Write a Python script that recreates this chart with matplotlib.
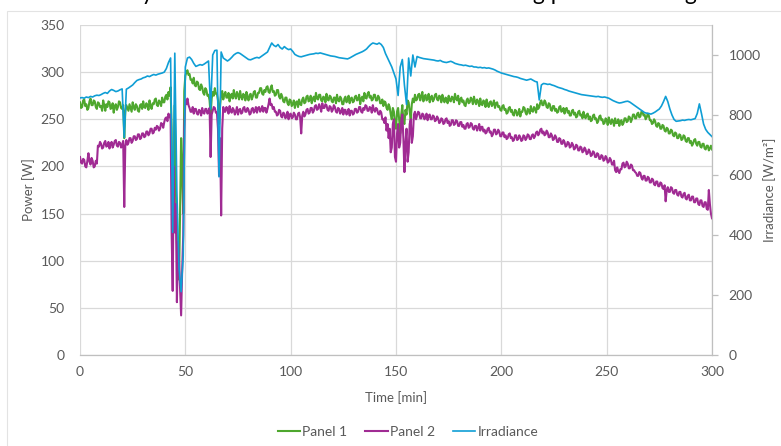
import numpy as np
import matplotlib
matplotlib.use("Agg")
import matplotlib.pyplot as plt
from matplotlib.patches import Rectangle

plt.rcParams['font.family'] = ['Lato', 'DejaVu Sans']

# Panel readings every 30 s, irradiance every minute
panel_time = np.arange(0, 601) / 2
irr_time = np.arange(0, 301)

# Output power of panel 1 [W]
panel1 = [
    268, 262, 263, 270, 271, 264, 266, 260, 262, 269, 272, 265, 265, 270, 269, 263, 261, 268, 267, 263,
    264, 259, 270, 265, 259, 266, 263, 269, 268, 261, 262, 267, 257, 264, 266, 260, 263, 269, 268, 262,
    261, 265, 230, 258, 265, 262, 259, 266, 262, 258, 268, 263, 260, 266, 264, 259, 258, 265, 266, 261,
    269, 263, 262, 267, 265, 260, 270, 264, 261, 267, 266, 271, 272, 265, 264, 270, 268, 264, 273, 268,
    268, 274, 276, 271, 279, 275, 284, 240, 100, 200, 265, 180, 120, 90, 80, 150, 230, 195, 150, 280,
    296, 300, 302, 297, 298, 292, 292, 288, 294, 286, 285, 290, 289, 282, 281, 287, 284, 278, 276, 283,
    281, 275, 276, 270, 255, 272, 279, 275, 283, 277, 277, 270, 245, 265, 276, 280, 271, 276, 279, 273,
    273, 278, 269, 275, 277, 272, 281, 275, 272, 279, 276, 271, 280, 274, 271, 277, 275, 270, 279, 273,
    270, 276, 277, 271, 274, 279, 280, 273, 273, 278, 278, 283, 283, 277, 276, 281, 279, 284, 285, 279,
    278, 283, 286, 279, 280, 275, 276, 281, 281, 274, 272, 277, 274, 269, 268, 273, 273, 267, 265, 271,
    270, 264, 266, 270, 262, 268, 269, 263, 271, 266, 265, 271, 273, 267, 268, 274, 275, 269, 270, 275,
    267, 272, 274, 269, 278, 272, 271, 276, 276, 270, 269, 274, 273, 268, 277, 271, 270, 275, 274, 269,
    268, 273, 273, 267, 276, 270, 269, 274, 272, 266, 266, 272, 274, 268, 270, 275, 267, 272, 273, 268,
    269, 274, 275, 270, 271, 276, 266, 272, 274, 269, 278, 273, 272, 277, 279, 273, 275, 270, 271, 276,
    276, 270, 270, 275, 273, 267, 267, 271, 264, 269, 268, 262, 260, 266, 263, 255, 250, 262, 258, 245,
    240, 258, 262, 250, 235, 255, 265, 248, 245, 260, 255, 270, 268, 258, 250, 266, 272, 268, 276, 270,
    271, 276, 277, 270, 274, 279, 269, 274, 276, 270, 272, 277, 268, 273, 275, 269, 271, 276, 277, 271,
    270, 275, 274, 268, 276, 271, 268, 273, 272, 267, 275, 270, 269, 274, 273, 268, 277, 272, 270, 275,
    266, 271, 273, 268, 270, 265, 264, 270, 272, 267, 268, 273, 271, 266, 274, 269, 266, 271, 269, 264,
    272, 266, 265, 270, 268, 263, 271, 266, 263, 268, 269, 264, 266, 270, 262, 267, 268, 263, 264, 260,
    259, 264, 265, 260, 261, 256, 257, 262, 263, 258, 260, 255, 254, 260, 259, 254, 256, 261, 253, 258,
    258, 263, 262, 257, 255, 261, 260, 256, 264, 259, 258, 263, 261, 257, 266, 261, 263, 268, 270, 265,
    265, 270, 268, 263, 262, 267, 266, 260, 259, 264, 264, 259, 261, 257, 258, 263, 264, 258, 259, 262,
    256, 261, 262, 257, 259, 254, 254, 259, 260, 255, 257, 252, 253, 258, 259, 254, 255, 251, 258, 253,
    251, 255, 256, 250, 253, 248, 249, 254, 255, 250, 251, 246, 248, 253, 254, 249, 250, 245, 246, 251,
    249, 244, 252, 247, 245, 250, 248, 243, 251, 246, 246, 250, 243, 248, 249, 244, 246, 251, 251, 247,
    248, 253, 252, 247, 250, 255, 255, 251, 251, 256, 257, 252, 253, 258, 258, 254, 255, 250, 252, 256,
    254, 249, 249, 245, 246, 250, 248, 243, 242, 246, 245, 240, 240, 244, 243, 238, 237, 241, 240, 235,
    235, 239, 238, 233, 232, 236, 235, 230, 230, 234, 233, 228, 229, 233, 232, 227, 226, 230, 230, 225,
    227, 222, 224, 228, 229, 224, 222, 226, 226, 221, 220, 224, 224, 219, 218, 222, 222, 217, 219, 222,
    218,
]

# Output power of panel 2 [W]
panel2 = [
    210, 204, 203, 208, 207, 200, 199, 206, 214, 205, 202, 209, 206, 199, 200, 206, 203, 222, 221, 226,
    224, 219, 220, 225, 227, 221, 222, 226, 219, 224, 226, 220, 223, 227, 228, 222, 221, 226, 225, 220,
    223, 227, 157, 222, 228, 223, 225, 230, 230, 225, 227, 232, 232, 228, 229, 234, 234, 229, 230, 235,
    235, 231, 232, 237, 237, 233, 235, 240, 240, 235, 236, 241, 239, 243, 242, 238, 240, 246, 245, 241,
    247, 251, 252, 248, 256, 252, 255, 130, 68, 200, 130, 160, 56, 120, 100, 70, 42, 90, 127, 240,
    270, 266, 272, 265, 262, 258, 258, 263, 256, 261, 261, 256, 255, 260, 259, 254, 262, 257, 256, 261,
    261, 256, 258, 262, 210, 255, 259, 263, 262, 257, 257, 240, 190, 230, 148, 240, 263, 258, 258, 263,
    261, 256, 264, 259, 257, 262, 260, 255, 258, 263, 255, 260, 261, 256, 257, 262, 263, 258, 258, 262,
    260, 255, 256, 261, 262, 257, 259, 263, 257, 262, 263, 258, 260, 264, 258, 262, 262, 257, 261, 266,
    272, 265, 266, 261, 263, 258, 258, 254, 255, 260, 259, 253, 252, 257, 256, 251, 253, 258, 250, 255,
    256, 251, 252, 257, 255, 250, 250, 256, 257, 252, 235, 254, 258, 253, 255, 260, 261, 256, 257, 262,
    262, 257, 259, 264, 265, 260, 261, 266, 263, 258, 267, 262, 262, 266, 265, 260, 259, 264, 263, 258,
    260, 265, 263, 258, 257, 262, 261, 256, 258, 262, 255, 260, 260, 255, 257, 261, 254, 259, 259, 255,
    256, 261, 261, 257, 258, 263, 263, 258, 257, 262, 260, 265, 264, 259, 259, 263, 262, 257, 265, 260,
    258, 262, 261, 256, 255, 259, 257, 250, 250, 246, 252, 238, 245, 230, 240, 215, 220, 245, 250, 210,
    205, 235, 245, 220, 225, 248, 255, 230, 194, 225, 240, 205, 215, 245, 250, 225, 232, 255, 258, 250,
    254, 258, 257, 251, 251, 256, 255, 250, 252, 256, 249, 254, 255, 250, 250, 254, 253, 248, 249, 253,
    251, 246, 247, 251, 250, 245, 246, 250, 251, 246, 248, 243, 244, 249, 249, 244, 245, 249, 248, 243,
    243, 247, 247, 242, 244, 240, 240, 245, 246, 241, 242, 246, 245, 240, 239, 243, 243, 238, 241, 245,
    238, 242, 242, 237, 239, 235, 236, 240, 241, 236, 237, 232, 234, 239, 239, 234, 235, 239, 237, 232,
    232, 236, 236, 231, 233, 229, 230, 234, 235, 230, 231, 227, 228, 233, 233, 228, 229, 233, 231, 227,
    228, 233, 232, 228, 230, 234, 233, 229, 229, 233, 234, 230, 232, 236, 237, 233, 235, 239, 240, 235,
    237, 233, 234, 238, 236, 231, 231, 235, 233, 228, 229, 233, 231, 226, 226, 230, 229, 224, 224, 228,
    226, 221, 222, 226, 225, 220, 221, 225, 223, 218, 219, 223, 222, 217, 217, 221, 220, 215, 216, 220,
    218, 213, 214, 218, 216, 211, 212, 216, 215, 210, 210, 214, 213, 208, 208, 212, 211, 206, 207, 211,
    209, 204, 205, 209, 207, 202, 202, 206, 196, 194, 199, 195, 193, 197, 197, 203, 204, 199, 200, 205,
    203, 198, 198, 202, 201, 196, 196, 194, 193, 190, 190, 194, 193, 188, 186, 190, 190, 185, 185, 189,
    188, 183, 183, 187, 186, 181, 180, 184, 184, 179, 179, 183, 182, 177, 176, 180, 163, 175, 178, 173,
    173, 178, 177, 172, 171, 175, 175, 170, 169, 173, 173, 168, 167, 171, 172, 166, 165, 169, 170, 164,
    164, 168, 168, 162, 162, 166, 166, 160, 159, 164, 164, 158, 157, 162, 162, 155, 154, 175, 160, 150,
    145,
]

# Solar irradiance [W/m2]
irradiance = [
    857, 858, 856, 860, 858, 862, 860, 864, 866, 865,
    868, 872, 875, 872, 880, 885, 882, 878, 880, 884,
    887, 725, 886, 890, 895, 900, 908, 915, 918, 920,
    924, 926, 930, 928, 932, 935, 933, 936, 938, 940,
    943, 955, 975, 990, 409, 1006, 540, 290, 211, 330,
    960, 990, 993, 985, 972, 962, 965, 968, 966, 970,
    975, 980, 820, 1000, 1015, 1016, 594, 1010, 990, 985,
    980, 985, 992, 1000, 1005, 1008, 1005, 1000, 995, 990,
    985, 984, 987, 990, 992, 990, 995, 1000, 1005, 1010,
    1025, 1040, 1032, 1028, 1035, 1025, 1020, 1028, 1022, 1018,
    1020, 1012, 1002, 998, 995, 994, 996, 998, 1000, 1002,
    1003, 1004, 1006, 1005, 1007, 1005, 1003, 1001, 999, 997,
    996, 995, 993, 991, 990, 989, 988, 987, 990, 994,
    998, 1002, 1005, 1008, 1011, 1015, 1020, 1028, 1035, 1040,
    1038, 1036, 1040, 1035, 1025, 1005, 990, 975, 960, 940,
    920, 865, 960, 985, 900, 835, 990, 930, 1000, 960,
    995, 992, 990, 988, 987, 986, 985, 984, 983, 981,
    980, 982, 978, 976, 975, 977, 979, 976, 972, 970,
    968, 967, 965, 966, 964, 962, 963, 960, 960, 958,
    959, 957, 958, 956, 957, 955, 953, 950, 946, 943,
    940, 938, 936, 934, 932, 930, 928, 927, 925, 922,
    920, 918, 916, 918, 920, 916, 912, 910, 850, 900,
    905, 904, 902, 903, 900, 898, 895, 892, 890, 888,
    885, 883, 880, 878, 876, 874, 872, 870, 868, 867,
    866, 865, 864, 863, 862, 861, 862, 860, 859, 860,
    858, 856, 852, 848, 845, 842, 840, 841, 843, 845,
    846, 843, 838, 833, 828, 823, 818, 813, 808, 806,
    805, 803, 806, 810, 815, 820, 830, 845, 862, 845,
    820, 800, 785, 779, 780, 781, 783, 782, 784, 785,
    784, 786, 788, 805, 837, 805, 770, 752, 742, 735,
    728,
]

power_ticks = [0, 50, 100, 150, 200, 250, 300, 350]
irr_ticks = [0, 200, 400, 600, 800, 1000]
time_ticks = [0, 50, 100, 150, 200, 250, 300]

GREEN = '#4EA72E'
PURPLE = '#A02B93'
BLUE = '#0F9ED5'
GRID = '#D9D9D9'
TEXT = '#595959'

W, H = 781, 446
fig = plt.figure(figsize=(W / 100, H / 100), dpi=100)

# chart frame
fig.patches.append(Rectangle((7 / W, -0.01), 1.0, 1 - 11 / H + 0.01,
                             transform=fig.transFigure, fill=False,
                             edgecolor='#E3E3E3', linewidth=0.8))

# heading, mostly above the visible canvas
fig.text(399 / W, 1 + 0.5 / H,
         'Daily measured values and irradiance during partial shading',
         ha='center', va='baseline', fontsize=16.5, color='black')

ax = fig.add_axes([80 / W, 1 - 355 / H, (712 - 80) / W, (355 - 25) / H])
ax2 = ax.twinx()

l1, = ax.plot(panel_time, panel1, color=GREEN, lw=1.5, label='Panel 1', zorder=3)
l2, = ax.plot(panel_time, panel2, color=PURPLE, lw=1.5, label='Panel 2', zorder=4)
l3, = ax2.plot(irr_time, irradiance, color=BLUE, lw=1.2, label='Irradiance')

ax.set_xlim(0, 300)
ax.set_ylim(0, 350)
ax2.set_ylim(0, 1100)
ax.set_xticks(time_ticks)
ax.set_yticks(power_ticks)
ax2.set_yticks(irr_ticks)

ax.grid(True, color=GRID, lw=0.9)
ax.set_axisbelow(True)
for a in (ax, ax2):
    for s in a.spines.values():
        s.set_visible(False)
ax2.spines['right'].set_visible(True)
ax2.spines['right'].set_color('#BFBFBF')
ax2.spines['right'].set_linewidth(0.9)
ax.spines['bottom'].set_visible(True)
ax.spines['bottom'].set_color('#BFBFBF')
ax.spines['bottom'].set_linewidth(0.9)

ax.tick_params(axis='y', length=0, pad=11, labelsize=10, labelcolor=TEXT)
ax.tick_params(axis='x', length=0, pad=8, labelsize=10, labelcolor=TEXT)
ax2.tick_params(axis='y', length=4, width=0.9, color='#BFBFBF', pad=8,
                labelsize=10, labelcolor=TEXT)

ax.set_xlabel('Time [min]', fontsize=9.5, color=TEXT, labelpad=9)
ax.set_ylabel('Power [W]', fontsize=9.5, color=TEXT, labelpad=4)
ax2.set_ylabel('Irradiance [W/m²]', fontsize=9.5, color=TEXT, labelpad=2)

fig.legend(handles=[l1, l2, l3], loc='center', bbox_to_anchor=(408 / W, 1 - 432 / H),
           ncol=3, frameon=False, fontsize=10, handlelength=1.6,
           handletextpad=0.15, columnspacing=1.3, labelcolor=TEXT)

fig.savefig('out.png', dpi=100)
